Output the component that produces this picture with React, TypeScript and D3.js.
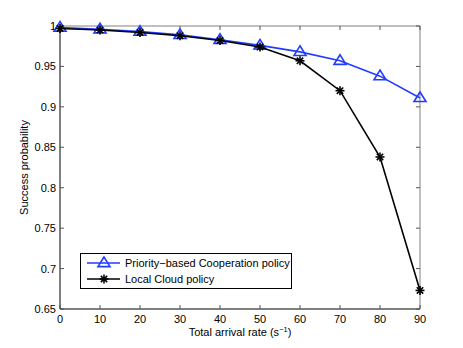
import React from 'react';
import * as d3 from 'd3';

const arrivalRates = [0, 10, 20, 30, 40, 50, 60, 70, 80, 90];
const priorityPolicy = [0.998, 0.996, 0.993, 0.989, 0.983, 0.976, 0.968, 0.957, 0.938, 0.911];
const localCloudPolicy = [0.997, 0.995, 0.992, 0.988, 0.982, 0.974, 0.957, 0.920, 0.838, 0.673];
const xTicks = [0, 10, 20, 30, 40, 50, 60, 70, 80, 90];
const yTicks = [0.65, 0.7, 0.75, 0.8, 0.85, 0.9, 0.95, 1];

const W = 463;
const H = 348;
const left = 60;
const right = 420;
const top = 26;
const bottom = 309;
const font = 'Liberation Sans, Arial, sans-serif';
const fs = 11;

function Star({ x, y }: { x: number; y: number }) {
    const r = 4.5;
    const a = r * 0.707;
    return (
        <g stroke="#000" strokeWidth={1.6}>
            <line x1={x - r} y1={y} x2={x + r} y2={y} />
            <line x1={x} y1={y - r} x2={x} y2={y + r} />
            <line x1={x - a} y1={y - a} x2={x + a} y2={y + a} />
            <line x1={x - a} y1={y + a} x2={x + a} y2={y - a} />
        </g>
    );
}

function Tri({ x, y }: { x: number; y: number }) {
    const r = 6;
    const pts = `${x},${y - r} ${x - r},${y + r * 0.6} ${x + r},${y + r * 0.6}`;
    return <polygon points={pts} fill="none" stroke="#1f3cff" strokeWidth={1.6} />;
}

export default function App() {
    const xScale = d3.scaleLinear().domain([0, 90]).range([left, right]);
    const yScale = d3.scaleLinear().domain([0.65, 1]).range([bottom, top]);

    const line = d3.line<number>()
        .x((d, i) => xScale(arrivalRates[i]))
        .y(d => yScale(d));

    const tickLen = 4;

    return (
        <svg width={W} height={H} style={{ position: 'absolute', left: 0, top: 0 }} fontFamily={font}>
            <rect x={0} y={0} width={W} height={H} fill="#fff" />
            {/* box */}
            <line x1={left} y1={top} x2={right} y2={top} stroke="#808080" strokeWidth={1} />
            <line x1={right} y1={top} x2={right} y2={bottom} stroke="#808080" strokeWidth={1} />
            <line x1={left} y1={bottom} x2={right} y2={bottom} stroke="#000" strokeWidth={1} />
            <line x1={left} y1={top} x2={left} y2={bottom} stroke="#000" strokeWidth={1} />
            {xTicks.map((t, i) => (
                <g key={i}>
                    <line x1={xScale(t)} x2={xScale(t)} y1={bottom} y2={bottom - tickLen} stroke="#555" />
                    <line x1={xScale(t)} x2={xScale(t)} y1={top} y2={top + tickLen} stroke="#555" />
                    <text x={xScale(t)} y={bottom + 14} fontSize={fs} textAnchor="middle" fill="#000">{t}</text>
                </g>
            ))}
            {yTicks.map((t, i) => (
                <g key={i}>
                    <line x1={left} x2={left + tickLen} y1={yScale(t)} y2={yScale(t)} stroke="#555" />
                    <line x1={right} x2={right - tickLen} y1={yScale(t)} y2={yScale(t)} stroke="#555" />
                    <text x={left - 4} y={yScale(t) + 4} fontSize={fs} textAnchor="end" fill="#000">{t}</text>
                </g>
            ))}
            <path d={line(priorityPolicy) || ''} fill="none" stroke="#1f3cff" strokeWidth={1.6} />
            {priorityPolicy.map((v, i) => <Tri key={i} x={xScale(arrivalRates[i])} y={yScale(v)} />)}
            <path d={line(localCloudPolicy) || ''} fill="none" stroke="#000" strokeWidth={1.6} />
            {localCloudPolicy.map((v, i) => <Star key={i} x={xScale(arrivalRates[i])} y={yScale(v)} />)}

            <text x={240} y={336} fontSize={fs} textAnchor="middle" fill="#000">
                Total arrival rate (s<tspan dy={-4} fontSize={7.5}>−1</tspan><tspan dy={4}>)</tspan>
            </text>
            <text transform={`translate(28, ${(top + bottom) / 2}) rotate(-90)`} fontSize={fs} textAnchor="middle" fill="#000">
                Success probability
            </text>

            {/* legend */}
            <rect x={80.5} y={253.5} width={211} height={35} fill="#fff" stroke="#000" strokeWidth={1} />
            <line x1={87} x2={120} y1={263} y2={263} stroke="#1f3cff" strokeWidth={1.6} />
            <Tri x={104} y={263} />
            <text x={125} y={267} fontSize={fs} fill="#000">Priority−based Cooperation policy</text>
            <line x1={87} x2={120} y1={279} y2={279} stroke="#000" strokeWidth={1.6} />
            <Star x={104} y={279} />
            <text x={125} y={283} fontSize={fs} fill="#000">Local Cloud policy</text>
        </svg>
    );
}
